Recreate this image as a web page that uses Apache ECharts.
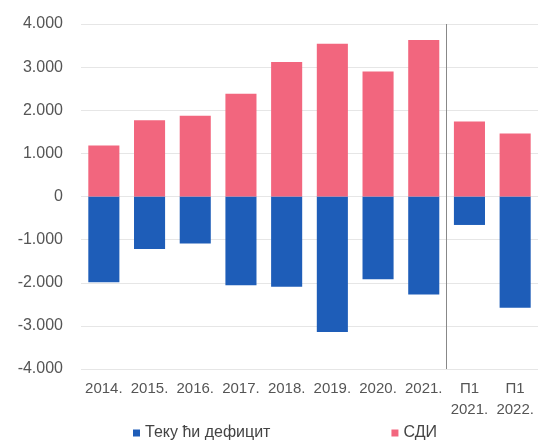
<!DOCTYPE html>
<html>
<head>
<meta charset="utf-8">
<script src="https://cdn.jsdelivr.net/npm/echarts@6/dist/echarts.min.js"></script>
<style>
  html, body { margin: 0; padding: 0; background: #fff; }
  #chart { width: 539px; height: 447px; }
</style>
</head>
<body>
<div id="chart"></div>
<script>
// категорије
const categories = ['2014.', '2015.', '2016.', '2017.', '2018.', '2019.', '2020.', '2021.', 'П1\n2021.', 'П1\n2022.'];
// текући дефицит
const deficit = [-1990, -1220, -1090, -2060, -2090, -3140, -1920, -2270, -660, -2580];
// СДИ
const sdi = [1180, 1770, 1870, 2380, 3120, 3540, 2900, 3630, 1740, 1460];
const legendNames = ['Теку ћи дефицит', 'СДИ'];
// граница између годишњих и полугодишњих података (између 2021. и П1 2021.)
const dividerAt = 7.5;

const myChart = echarts.init(document.getElementById('chart'));
const fmt = v => {
    const s = Math.abs(v).toString().replace(/\B(?=(\d{3})+(?!\d))/g, '.');
    return (v < 0 ? '-' : '') + s;
};
myChart.setOption({
    animation: false,
    textStyle: { fontFamily: 'Arial, "Liberation Sans", sans-serif' },
    grid: { left: 81, right: 1, top: 24, bottom: 78 },
    legend: {
        data: legendNames,
        left: 128,
        bottom: 1,
        itemWidth: 7,
        itemHeight: 7,
        itemGap: 121,
        icon: 'rect',
        textStyle: { color: '#444', fontSize: 16 }
    },
    xAxis: [
        {
            type: 'category',
            data: categories,
            axisLine: { show: false },
            axisTick: { show: false },
            axisLabel: { color: '#555', fontSize: 15, margin: 9, interval: 0, lineHeight: 21 },
            splitLine: { show: false }
        },
        {
            // помоћна оса за вертикалну линију
            type: 'value',
            min: -0.5,
            max: categories.length - 0.5,
            show: false
        }
    ],
    yAxis: {
        type: 'value',
        min: -4000,
        max: 4000,
        interval: 1000,
        axisLine: { show: false },
        axisTick: { show: false },
        axisLabel: { color: '#555', fontSize: 16, margin: 18, formatter: fmt },
        splitLine: { lineStyle: { color: '#e6e6e6' } }
    },
    series: [
        {
            name: legendNames[0],
            type: 'bar',
            stack: 'a',
            data: deficit,
            barWidth: '68%',
            itemStyle: { color: '#1E5DB8' }
        },
        {
            name: legendNames[1],
            type: 'bar',
            stack: 'a',
            data: sdi,
            barWidth: '68%',
            itemStyle: { color: '#F2667E' }
        },
        {
            type: 'line',
            xAxisIndex: 1,
            data: [],
            silent: true,
            markLine: {
                symbol: 'none',
                silent: true,
                label: { show: false },
                lineStyle: { color: '#888', width: 1, type: 'solid' },
                data: [{ xAxis: dividerAt }]
            }
        }
    ]
});
</script>
</body>
</html>
